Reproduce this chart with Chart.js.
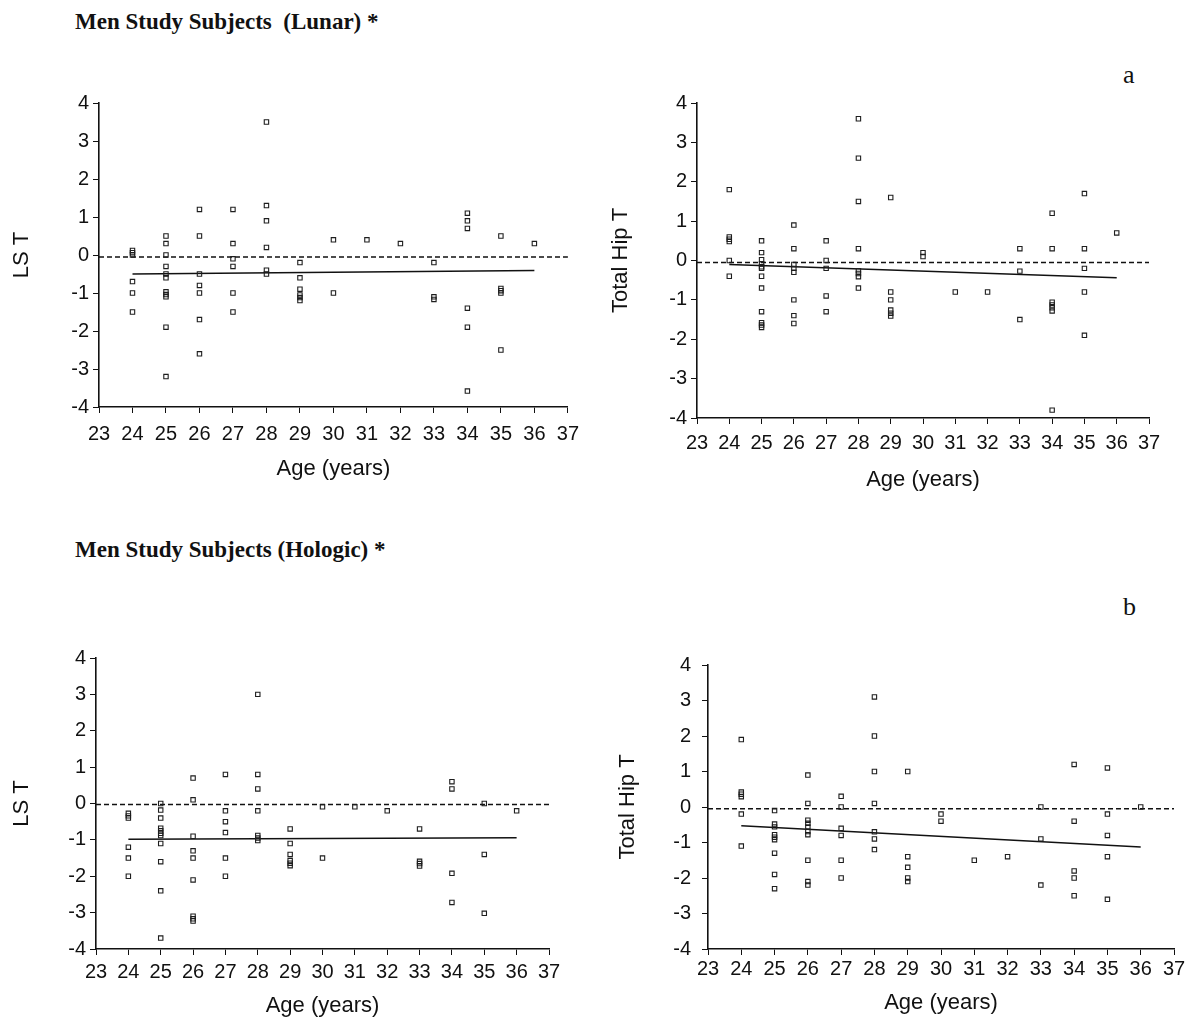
<!DOCTYPE html>
<html>
<head>
<meta charset="utf-8">
<script src="https://cdn.jsdelivr.net/npm/chart.js@4.4.1/dist/chart.umd.min.js"></script>
<style>
  html, body { margin: 0; padding: 0; background: #fff; }
  #page { position: relative; width: 1191px; height: 1022px; overflow: hidden; background: #fff; }
  canvas { position: absolute; }
  .heading {
    position: absolute; white-space: pre; line-height: 1; color: #111;
    font-family: 'Liberation Serif', 'Times New Roman', serif; font-weight: bold; font-size: 23px;
  }
  .tag {
    position: absolute; line-height: 1; color: #111;
    font-family: 'Liberation Serif', 'Times New Roman', serif; font-size: 26px;
  }
</style>
</head>
<body>
<div id="page">
  <div class="heading" style="left:75px; top:10px">Men Study Subjects  (Lunar) *</div>
  <div class="heading" style="left:75px; top:538px">Men Study Subjects (Hologic) *</div>
  <div class="tag" style="left:1123px; top:62px">a</div>
  <div class="tag" style="left:1123px; top:594px">b</div>
  <canvas id="lunar-ls"></canvas>
  <canvas id="lunar-hip"></canvas>
  <canvas id="hologic-ls"></canvas>
  <canvas id="hologic-hip"></canvas>
</div>

<script>
'use strict'

// ages on the x axis, one entry per column of points
const ages = [24, 25, 26, 27, 28, 29, 30, 31, 32, 33, 34, 35, 36]

// T-scores per age (same order as ages)
const lunarLs = [
  [0.12, 0.06, 0, -0.7, -1.0, -1.5],
  [0.5, 0.3, 0, -0.3, -0.5, -0.6, -0.97, -1.04, -1.1, -1.9, -3.2],
  [1.2, 0.5, -0.5, -0.8, -1.0, -1.7, -2.6],
  [1.2, 0.3, -0.1, -0.3, -1.0, -1.5],
  [3.5, 1.3, 0.9, 0.2, -0.4, -0.5],
  [-0.2, -0.6, -0.9, -1.05, -1.12, -1.2],
  [0.4, -1.0],
  [0.4],
  [0.3],
  [-0.2, -1.1, -1.17],
  [1.1, 0.9, 0.7, -1.4, -1.9, -3.58],
  [0.5, -0.88, -0.94, -1.0, -2.5],
  [0.3]
]

const lunarHip = [
  [1.8, 0.6, 0.54, 0.48, 0, -0.4],
  [0.5, 0.2, 0.02, -0.08, -0.16, -0.2, -0.4, -0.7, -1.3, -1.58, -1.64, -1.7],
  [0.9, 0.3, -0.1, -0.2, -0.3, -1.0, -1.4, -1.6],
  [0.5, 0, -0.2, -0.9, -1.3],
  [3.6, 2.6, 1.5, 0.3, -0.26, -0.33, -0.41, -0.7],
  [1.6, -0.8, -1.0, -1.26, -1.34, -1.41],
  [0.2, 0.1],
  [-0.8],
  [-0.8],
  [0.3, -0.27, -1.5],
  [1.2, 0.3, -1.06, -1.13, -1.2, -1.28, -3.8],
  [1.7, 0.3, -0.2, -0.8, -1.9],
  [0.7]
]

const hologicLs = [
  [-0.27, -0.34, -0.4, -1.2, -1.5, -2.0],
  [0, -0.18, -0.4, -0.68, -0.75, -0.82, -0.88, -1.1, -1.6, -2.4, -3.7],
  [0.7, 0.1, -0.9, -1.3, -1.5, -2.1, -3.1, -3.17, -3.23],
  [0.8, -0.2, -0.5, -0.8, -1.5, -2.0],
  [3.0, 0.8, 0.4, -0.2, -0.88, -0.95, -1.02],
  [-0.7, -1.1, -1.4, -1.57, -1.64, -1.71],
  [-0.09, -1.5],
  [-0.09],
  [-0.2],
  [-0.7, -1.59, -1.65, -1.72],
  [0.6, 0.4, -1.92, -2.72],
  [0, -1.4, -3.02],
  [-0.2]
]

const hologicHip = [
  [1.9, 0.42, 0.36, 0.29, -0.2, -1.1],
  [-0.1, -0.48, -0.56, -0.78, -0.85, -0.92, -1.3, -1.9, -2.3],
  [0.9, 0.1, -0.37, -0.46, -0.56, -0.69, -0.78, -1.5, -2.1, -2.2],
  [0.3, 0, -0.6, -0.8, -1.5, -2.0],
  [3.1, 2.0, 1.0, 0.1, -0.7, -0.9, -1.2],
  [1.0, -1.4, -1.7, -2.0, -2.1],
  [-0.2, -0.4],
  [-1.5],
  [-1.4],
  [0, -0.9, -2.2],
  [1.2, -0.4, -1.8, -2.0, -2.5],
  [1.1, -0.2, -0.8, -1.4, -2.6],
  [0]
]

// regression lines (value at first and last fit age)
const fitAges = [24, 36]
const lunarLsFit = [-0.5, -0.41]
const lunarHipFit = [-0.1, -0.44]
const hologicLsFit = [-0.98, -0.94]
const hologicHipFit = [-0.53, -1.13]

// dashed reference line
const refAges = [23, 37]
const lunarLsRef = -0.05
const lunarHipRef = -0.05
const hologicLsRef = -0.03
const hologicHipRef = -0.05

const ageRange = [23, 37]
const tRange = [-4, 4]

const sans = "'Liberation Sans', Arial, sans-serif"
const ink = '#111'

const toPoints = values =>
  ages.flatMap((age, i) => values[i].map(v => ({ x: age, y: v })))

// plot area in page pixels, plus where the axis titles sit
const panels = [
  { id: 'lunar-ls', label: 'LS T', values: lunarLs, fit: lunarLsFit, ref: lunarLsRef,
    area: { l: 99, t: 102, r: 568, b: 407 }, yTitleX: 22, xTitleY: 469, xPad: 9, yPad: 4, padR: 20 },
  { id: 'lunar-hip', label: 'Total Hip T', values: lunarHip, fit: lunarHipFit, ref: lunarHipRef,
    area: { l: 697, t: 102, r: 1149, b: 418 }, yTitleX: 621, xTitleY: 480, xPad: 7, yPad: 4, padR: 20 },
  { id: 'hologic-ls', label: 'LS T', values: hologicLs, fit: hologicLsFit, ref: hologicLsRef,
    area: { l: 96, t: 657, r: 549, b: 949 }, yTitleX: 22, xTitleY: 1006, xPad: 5, yPad: 4, padR: 20 },
  { id: 'hologic-hip', label: 'Total Hip T', values: hologicHip, fit: hologicHipFit, ref: hologicHipRef,
    area: { l: 708, t: 657, r: 1174, b: 949 }, yTitleX: 628, xTitleY: 1003, xPad: 2, yPad: 11, padR: 15 }
]

function makePanel(p) {
  const padTop = 15
  const half = 13.2 // half of title line height (22px * 1.2 / 2)
  const left = Math.round(p.yTitleX - half)
  const top = p.area.t - padTop
  const bottom = Math.round(p.xTitleY + half)
  const yW = p.area.l - left
  const xH = bottom - p.area.b

  const canvas = document.getElementById(p.id)
  canvas.width = p.area.r + p.padR - left
  canvas.height = bottom - top
  canvas.style.left = left + 'px'
  canvas.style.top = top + 'px'

  const axisGrid = { drawOnChartArea: false, drawTicks: true, tickLength: 6, color: ink, lineWidth: 1 }
  const axisBorder = { display: true, color: ink, width: 1.6 }

  return new Chart(canvas, {
    type: 'scatter',
    data: {
      datasets: [
        {
          data: toPoints(p.values),
          pointStyle: 'rect',
          pointRadius: 3.1,
          pointBorderWidth: 1.1,
          borderColor: '#1e1e1e',
          backgroundColor: 'rgba(255,255,255,0)'
        },
        {
          data: fitAges.map((a, i) => ({ x: a, y: p.fit[i] })),
          showLine: true,
          borderColor: ink,
          borderWidth: 1.5,
          pointRadius: 0
        },
        {
          data: refAges.map(a => ({ x: a, y: p.ref })),
          showLine: true,
          borderColor: ink,
          borderWidth: 1.5,
          borderDash: [5, 3],
          pointRadius: 0
        }
      ]
    },
    options: {
      responsive: false,
      animation: false,
      devicePixelRatio: 1,
      layout: { padding: { left: 0, top: padTop, right: p.padR, bottom: 0 } },
      plugins: { legend: { display: false }, tooltip: { enabled: false } },
      scales: {
        x: {
          type: 'linear',
          min: ageRange[0],
          max: ageRange[1],
          ticks: {
            stepSize: 1, autoSkip: false, maxRotation: 0, minRotation: 0,
            padding: p.xPad, color: ink, font: { family: sans, size: 20 }
          },
          grid: axisGrid,
          border: axisBorder,
          title: { display: true, text: 'Age (years)', color: ink, padding: 0, font: { family: sans, size: 22 } },
          afterFit: s => { s.height = xH }
        },
        y: {
          type: 'linear',
          min: tRange[0],
          max: tRange[1],
          ticks: {
            stepSize: 1, autoSkip: false,
            padding: p.yPad, color: ink, font: { family: sans, size: 20 }
          },
          grid: axisGrid,
          border: axisBorder,
          title: { display: true, text: p.label, color: ink, padding: 0, font: { family: sans, size: 22 } },
          afterFit: s => { s.width = yW }
        }
      }
    }
  })
}

panels.forEach(makePanel)
</script>
</body>
</html>
